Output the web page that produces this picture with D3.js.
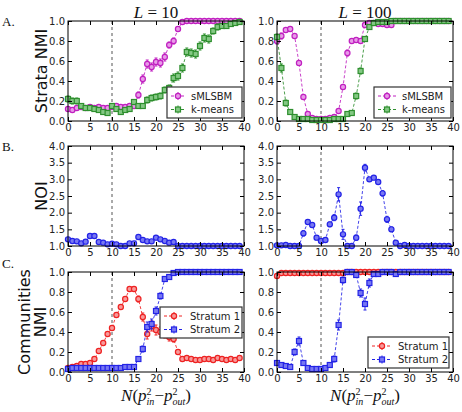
<!DOCTYPE html>
<html>
<head>
<meta charset="utf-8">
<script src="https://cdn.jsdelivr.net/npm/d3@7"></script>
<style>
  body { margin: 0; background: #fff; }
  svg { display: block; }
  .tick text { font-family: "DejaVu Sans", sans-serif; font-size: 10px; fill: #222; }
  .tick line { stroke: #000; }
</style>
</head>
<body>
<svg id="chart" width="462" height="412"></svg>
<script>
// x values: N(p_in^2 - p_out^2)
var nValues = [0,1,2,3,4,5,6,7,8,9,10,11,12,13,14,15,16,17,18,19,20,21,22,23,24,25,26,27,28,29,30,31,32,33,34,35,36,37,38,39];
var xTicks = [0,5,10,15,20,25,30,35,40];
var nmiTicks = [0.0,0.2,0.4,0.6,0.8,1.0];
var noiTicks = [1.0,1.5,2.0,2.5,3.0,3.5,4.0];

// A. strata NMI, L = 10
var strataL10Sm    = [0.12,0.11,0.13,0.14,0.13,0.14,0.13,0.14,0.13,0.13,0.14,0.15,0.14,0.14,0.15,0.15,0.26,0.42,0.57,0.54,0.59,0.58,0.64,0.76,0.80,0.92,0.99,1,1,1,1,1,1,1,1,1,1,1,1,1];
var strataL10SmErr = [0.02,0.02,0.02,0.02,0.02,0.02,0.02,0.02,0.02,0.02,0.02,0.02,0.02,0.02,0.02,0.02,0.03,0.04,0.04,0.04,0.04,0.04,0.04,0.03,0.03,0.02,0.01,0,0,0,0,0,0,0,0,0,0,0,0,0];
var strataL10Km    = [0.22,0.20,0.20,0.15,0.13,0.13,0.12,0.11,0.09,0.08,0.15,0.12,0.09,0.11,0.12,0.19,0.15,0.15,0.21,0.23,0.24,0.25,0.31,0.33,0.43,0.45,0.53,0.69,0.68,0.67,0.75,0.83,0.82,0.90,0.94,0.95,0.95,0.97,0.98,0.99];
var strataL10KmErr = [0.03,0.03,0.03,0.02,0.02,0.02,0.02,0.02,0.02,0.02,0.02,0.02,0.02,0.02,0.02,0.02,0.02,0.02,0.03,0.03,0.03,0.03,0.03,0.03,0.04,0.04,0.04,0.04,0.04,0.04,0.04,0.04,0.04,0.03,0.03,0.02,0.02,0.02,0.01,0.01];

// A. strata NMI, L = 100
var strataL100Sm    = [0.80,0.85,0.91,0.92,0.85,0.58,0.24,0.07,0.03,0.02,0.02,0.02,0.03,0.04,0.10,0.34,0.68,0.80,0.81,0.80,0.96,0.98,0.98,0.97,0.97,0.96,0.96,1,1,1,1,1,1,1,1,1,1,1,1,1];
var strataL100SmErr = [0.03,0.03,0.02,0.02,0.02,0.02,0.02,0.01,0.01,0.01,0.01,0.01,0.01,0.01,0.01,0.02,0.03,0.02,0.02,0.02,0.02,0.01,0.01,0.01,0.01,0.01,0.01,0,0,0,0,0,0,0,0,0,0,0,0,0];
var strataL100Km    = [0.84,0.53,0.18,0.09,0.04,0.02,0.02,0.02,0.01,0.01,0.01,0.01,0.01,0.02,0.02,0.02,0.07,0.08,0.25,0.50,0.82,0.94,0.98,0.99,0.99,0.99,1,1,1,1,1,1,1,1,1,1,1,1,1,1];
var strataL100KmErr = [0.03,0.04,0.03,0.01,0.01,0.01,0.01,0.01,0.01,0.01,0.01,0.01,0.01,0.01,0.01,0.01,0.01,0.01,0.03,0.03,0.02,0.01,0.01,0.01,0.01,0.01,0,0,0,0,0,0,0,0,0,0,0,0,0,0];

// B. NOI
var noiL10    = [1.20,1.15,1.14,1.08,1.13,1.30,1.30,1.12,1.10,1.05,1.07,1.05,1.00,1.00,1.08,1.08,1.27,1.18,1.14,1.14,1.25,1.20,1.15,1.10,1.12,1,1,1,1,1,1,1,1,1,1,1,1,1,1,1];
var noiL10Err = [0.04,0.04,0.04,0.03,0.03,0.06,0.06,0.04,0.03,0.03,0.03,0.02,0.01,0.01,0.03,0.03,0.06,0.04,0.04,0.04,0.05,0.04,0.04,0.03,0.03,0,0,0,0,0,0,0,0,0,0,0,0,0,0,0];
var noiL100    = [1.02,1.02,1.03,1.00,1.00,1.00,1.38,1.72,1.63,1.25,1.15,1.18,1.65,1.85,2.55,1.35,1.00,1.00,1.25,2.12,3.35,3.00,3.05,2.92,2.58,1.80,1.50,1.10,1.00,1.03,1,1,1,1,1,1,1,1,1,1];
var noiL100Err = [0.02,0.02,0.02,0,0,0,0.08,0.07,0.07,0.06,0.05,0.06,0.07,0.09,0.20,0.15,0,0,0.08,0.20,0.10,0.05,0.04,0.05,0.08,0.09,0.07,0.03,0,0.02,0,0,0,0,0,0,0,0,0,0];

// C. communities NMI
var commL10S1    = [0.04,0.05,0.06,0.08,0.08,0.09,0.13,0.21,0.29,0.38,0.44,0.57,0.65,0.73,0.83,0.83,0.73,0.55,0.38,0.46,0.42,0.40,0.38,0.35,0.33,0.20,0.13,0.14,0.13,0.12,0.12,0.13,0.13,0.12,0.14,0.13,0.12,0.13,0.12,0.14];
var commL10S1Err = [0.01,0.01,0.01,0.01,0.01,0.01,0.01,0.01,0.02,0.02,0.02,0.02,0.02,0.02,0.02,0.02,0.03,0.04,0.05,0.05,0.05,0.05,0.04,0.04,0.03,0.02,0.01,0.01,0.01,0.01,0.01,0.01,0.01,0.01,0.01,0.01,0.01,0.01,0.01,0.01];
var commL10S2    = [0.03,0.04,0.04,0.04,0.04,0.04,0.04,0.04,0.04,0.04,0.04,0.04,0.04,0.05,0.05,0.05,0.13,0.23,0.45,0.48,0.61,0.76,0.93,0.95,0.99,1,1,1,1,1,1,1,1,1,1,1,1,1,1,1];
var commL10S2Err = [0.02,0.01,0.01,0.01,0.01,0.01,0.01,0.01,0.01,0.01,0.01,0.01,0.01,0.01,0.01,0.01,0.02,0.03,0.05,0.05,0.04,0.03,0.02,0.02,0.01,0,0,0,0,0,0,0,0,0,0,0,0,0,0,0];
var commL100S1    = [0.96,0.99,0.99,0.99,0.99,0.99,0.99,0.99,0.99,0.99,0.99,0.99,0.99,0.99,0.99,0.99,1,1,1,1,1,1,1,1,1,1,1,1,1,1,1,1,1,1,1,1,1,1,1,1];
var commL100S1Err = [0.02,0.01,0.01,0.01,0.01,0.01,0.01,0.01,0.01,0.01,0.01,0.01,0.01,0.01,0.01,0.01,0,0,0,0,0,0,0,0,0,0,0,0,0,0,0,0,0,0,0,0,0,0,0,0];
var commL100S2    = [0.09,0.07,0.06,0.05,0.20,0.31,0.09,0.04,0.03,0.03,0.03,0.04,0.07,0.13,0.47,0.92,1,1,0.97,0.79,0.68,0.89,0.98,0.98,1,1,1,0.98,1,1,1,1,1,1,1,1,1,1,1,1];
var commL100S2Err = [0.02,0.02,0.01,0.01,0.03,0.04,0.02,0.01,0.01,0.01,0.01,0.01,0.02,0.03,0.05,0.03,0,0,0.02,0.04,0.06,0.04,0.01,0.01,0,0,0,0.01,0,0,0,0,0,0,0,0,0,0,0,0];

var MAGENTA = { stroke: "#c020c0", fill: "#e89ae8" };
var GREEN   = { stroke: "#2f8f2f", fill: "#84c884" };
var BLUE    = { stroke: "#2323e6", fill: "#7878f2" };
var RED     = { stroke: "#ee2222", fill: "#f79a9a" };

var svg = d3.select("#chart");

var colX = [68, 277];
var panelW = 176;
var rowY = [21, 146, 272];
var panelH = 100;

var panels = [
  { col: 0, row: 0, yDomain: [0, 1], yTicks: nmiTicks,
    series: [ { name: "sMLSBM", y: strataL10Sm, err: strataL10SmErr, c: MAGENTA, shape: "circle" },
              { name: "k-means", y: strataL10Km, err: strataL10KmErr, c: GREEN, shape: "square" } ],
    legend: { x: 167, y: 87, w: 75, h: 31, tx: 21 } },
  { col: 1, row: 0, yDomain: [0, 1], yTicks: nmiTicks,
    series: [ { name: "sMLSBM", y: strataL100Sm, err: strataL100SmErr, c: MAGENTA, shape: "circle" },
              { name: "k-means", y: strataL100Km, err: strataL100KmErr, c: GREEN, shape: "square" } ],
    legend: { x: 374, y: 87, w: 77, h: 31, tx: 25 } },
  { col: 0, row: 1, yDomain: [1, 4], yTicks: noiTicks,
    series: [ { name: "NOI", y: noiL10, err: noiL10Err, c: BLUE, shape: "circle" } ] },
  { col: 1, row: 1, yDomain: [1, 4], yTicks: noiTicks,
    series: [ { name: "NOI", y: noiL100, err: noiL100Err, c: BLUE, shape: "circle" } ] },
  { col: 0, row: 2, yDomain: [0, 1], yTicks: nmiTicks,
    series: [ { name: "Stratum 1", y: commL10S1, err: commL10S1Err, c: RED, shape: "circle" },
              { name: "Stratum 2", y: commL10S2, err: commL10S2Err, c: BLUE, shape: "square" } ],
    legend: { x: 160, y: 307, w: 82, h: 31, tx: 27 } },
  { col: 1, row: 2, yDomain: [0, 1], yTicks: nmiTicks,
    series: [ { name: "Stratum 1", y: commL100S1, err: commL100S1Err, c: RED, shape: "circle" },
              { name: "Stratum 2", y: commL100S2, err: commL100S2Err, c: BLUE, shape: "square" } ],
    legend: { x: 368, y: 337, w: 81, h: 31, tx: 27 } }
];

function drawMarker(g, shape, cx, cy, c) {
  if (shape === "square") {
    g.append("rect").attr("x", cx - 2.5).attr("y", cy - 2.5).attr("width", 5).attr("height", 5)
      .attr("fill", c.fill).attr("stroke", c.stroke).attr("stroke-width", 1.2);
  } else {
    g.append("circle").attr("cx", cx).attr("cy", cy).attr("r", 2.6)
      .attr("fill", c.fill).attr("stroke", c.stroke).attr("stroke-width", 1.2);
  }
}

panels.forEach(function (p) {
  var x0 = colX[p.col], y0 = rowY[p.row];
  var x = d3.scaleLinear().domain([0, 40]).range([x0, x0 + panelW]);
  var y = d3.scaleLinear().domain(p.yDomain).range([y0 + panelH, y0]);
  var g = svg.append("g");

  // vertical dashed line at 10
  g.append("line").attr("x1", x(10)).attr("x2", x(10)).attr("y1", y0).attr("y2", y0 + panelH)
    .attr("stroke", "#555").attr("stroke-dasharray", "3,3").attr("stroke-width", 1);

  p.series.forEach(function (s) {
    var pts = nValues.map(function (n, i) { return { n: n, v: s.y[i], e: s.err[i] }; });
    var line = d3.line().x(function (d) { return x(d.n); }).y(function (d) { return y(d.v); });
    g.append("path").datum(pts).attr("d", line).attr("fill", "none")
      .attr("stroke", s.c.stroke).attr("stroke-width", 1).attr("stroke-dasharray", "3,2").attr("opacity", 0.85);
    pts.forEach(function (d) {
      if (d.e > 0) {
        var cx = x(d.n), ya = y(d.v - d.e), yb = y(d.v + d.e);
        g.append("line").attr("x1", cx).attr("x2", cx).attr("y1", ya).attr("y2", yb).attr("stroke", s.c.stroke);
        g.append("line").attr("x1", cx - 1.5).attr("x2", cx + 1.5).attr("y1", ya).attr("y2", ya).attr("stroke", s.c.stroke);
        g.append("line").attr("x1", cx - 1.5).attr("x2", cx + 1.5).attr("y1", yb).attr("y2", yb).attr("stroke", s.c.stroke);
      }
    });
    pts.forEach(function (d) { drawMarker(g, s.shape, x(d.n), y(d.v), s.c); });
  });

  // axes, ticks inward, mirrored
  svg.append("g").attr("transform", "translate(0," + (y0 + panelH) + ")")
    .call(d3.axisBottom(x).tickValues(xTicks).tickSizeInner(-4).tickSizeOuter(0).tickPadding(3))
    .call(function (a) { a.select(".domain").remove(); });
  svg.append("g").attr("transform", "translate(0," + y0 + ")")
    .call(d3.axisTop(x).tickValues(xTicks).tickSizeInner(-4).tickSizeOuter(0).tickFormat(""))
    .call(function (a) { a.select(".domain").remove(); });
  svg.append("g").attr("transform", "translate(" + x0 + ",0)")
    .call(d3.axisLeft(y).tickValues(p.yTicks).tickFormat(d3.format(".1f")).tickSizeInner(-4).tickSizeOuter(0).tickPadding(3))
    .call(function (a) { a.select(".domain").remove(); });
  svg.append("g").attr("transform", "translate(" + (x0 + panelW) + ",0)")
    .call(d3.axisRight(y).tickValues(p.yTicks).tickSizeInner(-4).tickSizeOuter(0).tickFormat(""))
    .call(function (a) { a.select(".domain").remove(); });

  svg.append("rect").attr("x", x0).attr("y", y0).attr("width", panelW).attr("height", panelH)
    .attr("fill", "none").attr("stroke", "#000").attr("stroke-width", 1);

  if (p.legend) {
    var L = p.legend;
    svg.append("rect").attr("x", L.x).attr("y", L.y).attr("width", L.w).attr("height", L.h)
      .attr("fill", "#fff").attr("stroke", "#333").attr("stroke-width", 1.2);
    p.series.forEach(function (s, i) {
      var ly = L.y + 9 + i * 13.5;
      var lg = svg.append("g");
      lg.append("line").attr("x1", L.x + 4).attr("x2", L.x + L.tx - 3).attr("y1", ly).attr("y2", ly)
        .attr("stroke", s.c.stroke).attr("stroke-dasharray", "3,2");
      var mx = L.x + (L.tx + 1) / 2;
      lg.append("line").attr("x1", mx).attr("x2", mx).attr("y1", ly - 4).attr("y2", ly + 4).attr("stroke", s.c.stroke);
      drawMarker(lg, s.shape, mx, ly, s.c);
      lg.append("text").attr("x", L.x + L.tx + 3).attr("y", ly + 3.5)
        .style("font-family", "DejaVu Sans, sans-serif").style("font-size", "10px").attr("fill", "#222")
        .text(s.name);
    });
  }
});

// titles
[["10", 0], ["100", 1]].forEach(function (t) {
  var cx = colX[t[1]] + panelW / 2;
  var txt = svg.append("text").attr("x", cx).attr("y", 18).attr("text-anchor", "middle")
    .style("font-family", "Liberation Serif, serif").style("font-size", "17px").attr("fill", "#111");
  txt.append("tspan").style("font-style", "italic").text("L");
  txt.append("tspan").text(" = " + t[0]);
});

// panel letters
[["A.", 26], ["B.", 151], ["C.", 268]].forEach(function (t) {
  svg.append("text").attr("x", 2).attr("y", t[1])
    .style("font-family", "Liberation Serif, serif").style("font-size", "13px").attr("fill", "#111").text(t[0]);
});

// y labels
function yLabel(text, bx, cy) {
  svg.append("text").attr("transform", "translate(" + bx + "," + cy + ") rotate(-90)")
    .attr("text-anchor", "middle").style("font-family", "DejaVu Sans, sans-serif").style("font-size", "16px")
    .attr("fill", "#111").text(text);
}
yLabel("Strata NMI", 47, rowY[0] + panelH / 2);
yLabel("NOI", 47, rowY[1] + panelH / 2);
yLabel("Communities", 30, rowY[2] + panelH / 2);
yLabel("NMI", 46, rowY[2] + panelH / 2);

// x labels
colX.forEach(function (x0) {
  var t = svg.append("text").attr("x", x0 + panelW / 2).attr("y", 401).attr("text-anchor", "middle")
    .style("font-family", "Liberation Serif, serif").style("font-size", "17px").attr("fill", "#111");
  t.append("tspan").style("font-style", "italic").text("N");
  t.append("tspan").text("(");
  t.append("tspan").style("font-style", "italic").text("p");
  t.append("tspan").attr("dy", -6).style("font-size", "10px").text("2");
  t.append("tspan").attr("dx", -5).attr("dy", 10).style("font-size", "10px").style("font-style", "italic").text("in");
  t.append("tspan").attr("dy", -4).text("\u2212");
  t.append("tspan").style("font-style", "italic").text("p");
  t.append("tspan").attr("dy", -6).style("font-size", "10px").text("2");
  t.append("tspan").attr("dx", -5).attr("dy", 10).style("font-size", "10px").style("font-style", "italic").text("out");
  t.append("tspan").attr("dy", -4).text(")");
});
</script>
</body>
</html>
